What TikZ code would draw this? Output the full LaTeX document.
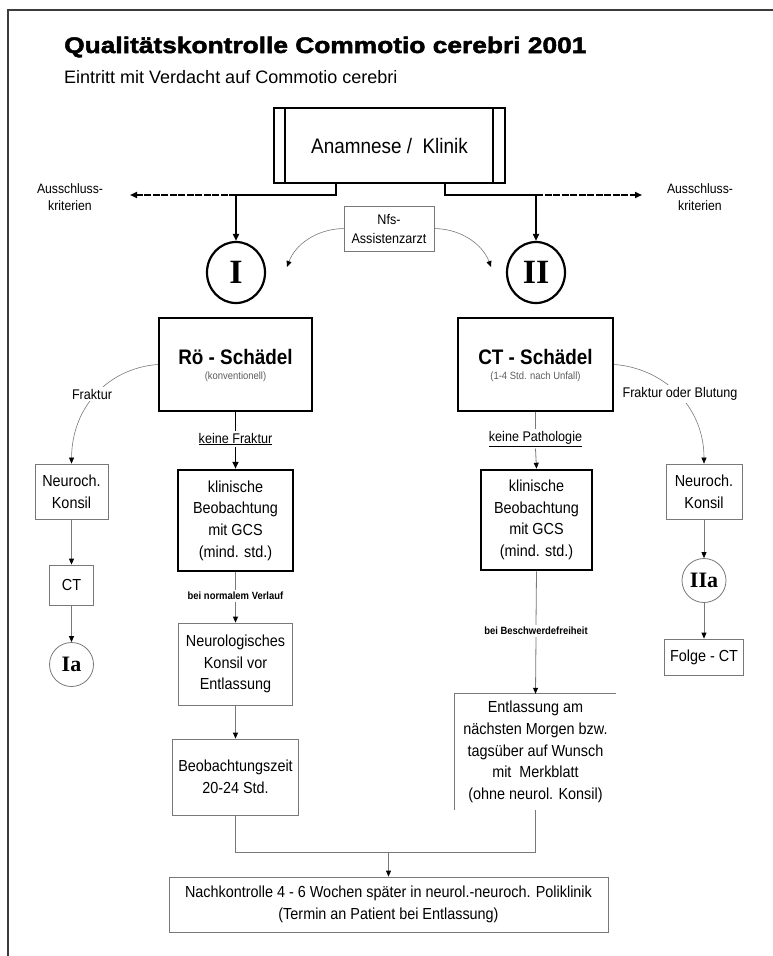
\documentclass[tikz,border=0pt]{standalone}
\usepackage{fontspec}
\setmainfont{Liberation Sans}
\newfontfamily\narrowfont[FakeStretch=0.9]{Liberation Sans}
\newfontfamily\titlefont[FakeStretch=1.17,FakeBold=2.2]{Liberation Sans Bold}
\newfontfamily\stagefont{Liberation Serif}
\usepackage{tikz}
\usetikzlibrary{arrows.meta,positioning,calc,shapes.geometric}
\definecolor{framegray}{RGB}{60,60,60}
\definecolor{boxgray}{RGB}{120,120,120}
\definecolor{subgray}{RGB}{90,90,90}
\newcommand{\boxtext}{\narrowfont\fontsize{16}{21.7}\selectfont}
\tikzset{
  thickline/.style={line width=1.8pt,draw=black},
  thinline/.style={line width=0.8pt,draw=boxgray},
  thickarrow/.style={thickline,-{Triangle[length=7pt,width=6pt]}},
  thinarrow/.style={thinline,-{Triangle[length=6pt,width=5pt,color=black]}},
  exclarrow/.style={thickline,dash pattern=on 7pt off 1.5pt,-{Triangle[length=7pt,width=6pt]}},
  curvearrow/.style={line width=0.6pt,draw=boxgray,-{Triangle[length=6pt,width=5pt,color=black]}}
}

\begin{document}
\begin{tikzpicture}[
  x=1pt,y=-1pt,
  heavybox/.style={draw,line width=2.5pt,inner sep=0pt,align=center,font=\boxtext},
  plainbox/.style={draw=boxgray,line width=0.8pt,inner sep=0pt,align=center,font=\boxtext},
  stagecircle/.style={ellipse,draw,line width=2.2pt,minimum width=58pt,minimum height=61pt,inner sep=0pt,font=\stagefont\bfseries\fontsize{34}{34}\selectfont},
  substage/.style={circle,draw=boxgray,line width=0.8pt,minimum size=44pt,inner sep=0pt,font=\stagefont\bfseries\fontsize{22}{22}\selectfont},
  edgelabel/.style={fill=white,inner sep=2pt,align=center,font=\narrowfont\fontsize{14}{17}\selectfont},
  minilabel/.style={fill=white,inner sep=2pt,font=\narrowfont\bfseries\fontsize{10.5}{12}\selectfont},
  boxhead/.style={inner sep=0pt,font=\narrowfont\bfseries\fontsize{21}{24}\selectfont},
  boxsub/.style={inner sep=0pt,text=subgray,font=\narrowfont\fontsize{10.5}{12}\selectfont}
]
\useasboundingbox (0,0) rectangle (773,956);

% page frame
\draw[framegray,line width=1.6pt] (773,10) -- (8,10) -- (8,956);

% headings
\node[anchor=base west,inner sep=0pt,font=\titlefont\fontsize{22.5}{27}\selectfont] (title) at (64,53)
  {Qualitätskontrolle Commotio cerebri 2001};
\node[anchor=base west,inner sep=0pt,font=\fontsize{18}{22}\selectfont] (subtitle) at (64,83)
  {Eintritt mit Verdacht auf Commotio cerebri};

% entry box
\node[draw,line width=1.6pt,minimum width=231pt,minimum height=75pt,inner sep=0pt,
      font=\narrowfont\fontsize{21}{25}\selectfont] (anam) at (389.5,145.5) {Anamnese /\ \ Klinik};
\draw[line width=1.6pt] ([xshift=12pt]anam.north west) -- ([xshift=12pt]anam.south west)
                        ([xshift=-13pt]anam.north east) -- ([xshift=-13pt]anam.south east);

\coordinate (stubL) at (336,195);
\coordinate (stubR) at (445,195);
\coordinate (jL) at (236,195);
\coordinate (jR) at (536,195);
\coordinate (exL) at (130,195);
\coordinate (exR) at (642,195);
\coordinate (toI) at (287,267);
\coordinate (toII) at (491,267);

\node[edgelabel,fill=none,font=\narrowfont\fontsize{13.6}{17}\selectfont] (exclL) at (70,197) {Ausschluss-\\kriterien};
\node[edgelabel,fill=none,font=\narrowfont\fontsize{13.6}{17}\selectfont] (exclR) at (700,197) {Ausschluss-\\kriterien};

\node[plainbox,minimum width=90pt,minimum height=45pt,font=\narrowfont\fontsize{14}{19}\selectfont] (nfs) at (389,228.5)
  {Nfs-\\Assistenzarzt};

\node[stagecircle] (stageI) at (236,272.5) {I};
\node[stagecircle] (stageII) at (536,272.5) {II};

% imaging boxes
\node[heavybox,minimum width=153pt,minimum height=93pt] (roe) at (235.5,364.5) {};
\node[boxhead] (roeHead) at (235.5,357) {Rö - Schädel};
\node[boxsub] (roeSub) at (235.5,377) {(konventionell)};
\node[heavybox,minimum width=155pt,minimum height=93pt] (ct) at (535.5,364.5) {};
\node[boxhead] (ctHead) at (535.5,357) {CT - Schädel};
\node[boxsub] (ctSub) at (535.5,377) {(1-4 Std. nach Unfall)};

\node[edgelabel] (kfL) at (235.5,439) {\underline{keine Fraktur}};
\node[edgelabel] (kpR) at (535.5,439) {\underline{keine Pathologie}};

\node[heavybox,minimum width=115pt,minimum height=101pt] (klinL) at (235.5,520.5)
  {klinische\\Beobachtung\\mit GCS\\(mind. std.)};
\node[heavybox,minimum width=111pt,minimum height=100pt] (klinR) at (536.5,520)
  {klinische\\Beobachtung\\mit GCS\\(mind. std.)};

% fracture branches
\node[plainbox,minimum width=73pt,minimum height=55pt] (neuroL) at (71.5,491.5) {Neuroch.\\Konsil};
\node[plainbox,minimum width=44pt,minimum height=40pt] (ctL) at (71.5,585) {CT};
\node[substage] (stageIa) at (71.5,664.5) {Ia};
\node[plainbox,minimum width=76pt,minimum height=55pt] (neuroR) at (704,491.5) {Neuroch.\\Konsil};
\node[substage] (stageIIa) at (704,580.5) {IIa};
\node[plainbox,minimum width=79pt,minimum height=36pt] (folgeCT) at (704,657) {Folge - CT};

% observation path
\node[minilabel] (nvL) at (235.5,596) {bei normalem Verlauf};
\node[plainbox,minimum width=114pt,minimum height=82pt] (neurolog) at (235.5,664)
  {Neurologisches\\Konsil vor\\Entlassung};
\node[plainbox,minimum width=126pt,minimum height=76pt] (beob) at (235.5,777)
  {Beobachtungszeit\\20-24 Std.};

\node[minilabel] (bfR) at (536,631) {bei Beschwerdefreiheit};
\node[inner sep=0pt,align=center,font=\boxtext,minimum width=161pt,minimum height=116pt] (entl) at (535.5,752)
  {Entlassung am\\nächsten Morgen bzw.\\tagsüber auf Wunsch\\mit\ \ Merkblatt\\(ohne neurol. Konsil)};
\draw[thinline] (entl.south west) -- (entl.north west) -- (entl.north east);

\node[plainbox,minimum width=439pt,minimum height=55pt] (nach) at (388.5,904.5)
  {Nachkontrolle 4 - 6 Wochen später in neurol.-neuroch. Poliklinik\\(Termin an Patient bei Entlassung)};

\coordinate (mL) at (235.5,852);
\coordinate (mR) at (535.5,852);
\coordinate (mC) at (388.5,852);

% connectors
\draw[thickline] (stubL |- anam.south) -- (stubL) -- (jL);
\draw[thickline] (stubR |- anam.south) -- (stubR) -- (jR);
\draw[exclarrow] (jL) -- (exL);
\draw[exclarrow] (jR) -- (exR);
\draw[thickarrow] (jL) -- (stageI);
\draw[thickarrow] (jR) -- (stageII);
\draw[curvearrow] (nfs.west) .. controls (316,229) and (295,245) .. (toI);
\draw[curvearrow] (nfs.east) .. controls (462,229) and (483,245) .. (toII);

\draw[thickline] (roe.south) -- (kfL.north);
\draw[thickarrow] (kfL.south) -- (klinL.north);
\draw[thinline] (ct.south) -- (kpR.north);
\draw[thinarrow] (kpR.south) -- (klinR.north);

\draw[curvearrow] (roe.west) .. controls (110,368) and (72,405) .. (neuroL.north);
\draw[curvearrow] (ct.east) .. controls (662,368) and (704,405) .. (neuroR.north);
\node[edgelabel] (frakL) at (92,394) {Fraktur};
\node[edgelabel] (frakR) at (680,394) {Fraktur oder Blutung};

\draw[thinarrow] (neuroL.south) -- (ctL.north);
\draw[thinarrow] (ctL.south) -- (stageIa.north);
\draw[thinarrow] (neuroR.south) -- (stageIIa.north);
\draw[thinarrow] (stageIIa.south) -- (folgeCT.north);

\draw[thinline] (klinL.south) -- (nvL.north);
\draw[thinarrow] (nvL.south) -- (neurolog.north);
\draw[thinarrow] (neurolog.south) -- (beob.north);
\draw[thinline] (klinR.south) -- (bfR.north);
\draw[thinarrow] (bfR.south) -- (entl.north);

\draw[thinline] (beob.south) -- (mL) -- (mR) -- (entl.south);
\draw[thinarrow] (mC) -- (nach.north);

\end{tikzpicture}
\end{document}
